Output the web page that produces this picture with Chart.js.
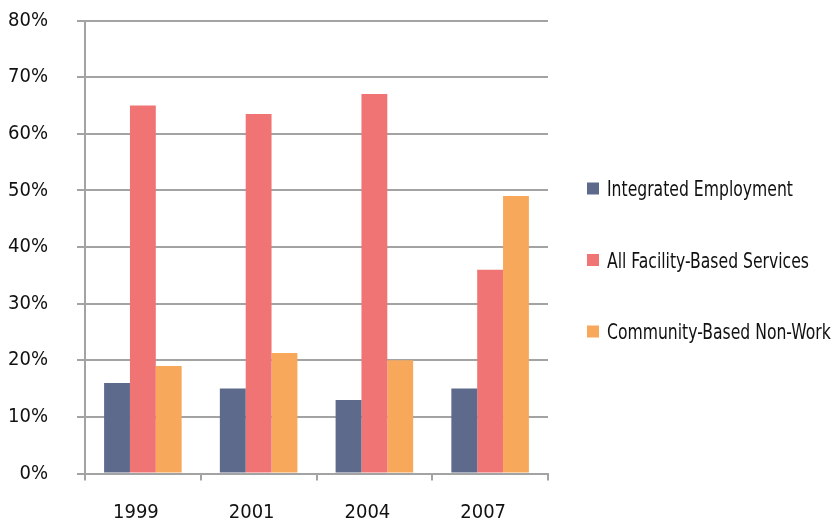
<!DOCTYPE html>
<html>
<head>
<meta charset="utf-8">
<script src="https://cdn.jsdelivr.net/npm/chart.js@4.4.1/dist/chart.umd.min.js"></script>
<style>
    html, body { margin: 0; padding: 0; background: #fff; }
    #wrap { width: 837px; height: 522px; }
</style>
</head>
<body>
<div id="wrap"><canvas id="chart" width="837" height="522"></canvas></div>
<script>
// Chart data
const years = ['1999', '2001', '2004', '2007'];
const integratedEmployment = [16, 15, 13, 15];
const facilityBased = [65, 63.5, 67, 36];
const communityNonWork = [19, 21.3, 20, 49];
const yTicks = [0, 10, 20, 30, 40, 50, 60, 70, 80];

const seriesNames = ['Integrated Employment', 'All Facility-Based Services', 'Community-Based Non-Work'];
const seriesColors = ['#5d6a8c', '#f07474', '#f8a85a'];

const fontFamily = "'DejaVu Sans Condensed', 'Liberation Sans Narrow', 'Liberation Sans', sans-serif";
const axisGray = '#a3a3a3';
const PLOT_TOP = 20.5;

// Legend drawn on the right, spaced out like the original
const sideLegend = {
    id: 'sideLegend',
    afterDraw(chart) {
        const ctx = chart.ctx;
        const area = chart.chartArea;
        const midY = chart.height / 2;
        ctx.save();
        ctx.font = '22px ' + fontFamily;
        ctx.textBaseline = 'middle';
        chart.data.datasets.forEach((ds, i) => {
            const y = midY + (i - 1) * 71.5;
            ctx.fillStyle = ds.backgroundColor;
            ctx.fillRect(area.right + 39, y - 7, 12, 12);
            // squeeze the text a bit, the original uses a condensed face
            ctx.save();
            ctx.translate(area.right + 59, y + 1);
            ctx.scale(0.79, 1);
            ctx.fillStyle = '#111';
            ctx.fillText(ds.label, 0, 0);
            ctx.restore();
        });
        ctx.restore();
    }
};

Chart.defaults.font.family = fontFamily;
Chart.defaults.color = '#111';

new Chart(document.getElementById('chart').getContext('2d'), {
    type: 'bar',
    data: {
        labels: years,
        datasets: [
            { label: seriesNames[0], data: integratedEmployment, backgroundColor: seriesColors[0] },
            { label: seriesNames[1], data: facilityBased, backgroundColor: seriesColors[1] },
            { label: seriesNames[2], data: communityNonWork, backgroundColor: seriesColors[2] }
        ]
    },
    options: {
        responsive: false,
        animation: false,
        devicePixelRatio: 1,
        categoryPercentage: 0.67,
        barPercentage: 1,
        layout: { padding: { top: 0, right: 289, bottom: 0, left: 0 } },
        plugins: {
            legend: { display: false },
            tooltip: { enabled: false }
        },
        scales: {
            x: {
                grid: {
                    offset: true,
                    drawOnChartArea: false,
                    drawTicks: true,
                    tickLength: 7,
                    color: axisGray,
                    lineWidth: 2
                },
                border: { color: axisGray, width: 2 },
                ticks: { font: { size: 20 }, padding: 20, maxRotation: 0, labelOffset: -7 },
                afterFit(scale) { scale.height = 48.5; }
            },
            y: {
                min: 0,
                max: 80,
                afterBuildTicks(scale) {
                    scale.ticks = yTicks.map(v => ({ value: v }));
                },
                grid: {
                    color: axisGray,
                    lineWidth: 2,
                    tickLength: 8
                },
                border: { color: axisGray, width: 2 },
                ticks: {
                    font: { size: 20 },
                    padding: 29,
                    callback: v => v + '%'
                },
                afterFit(scale) {
                    scale.width = 85;
                    scale.paddingTop = PLOT_TOP;
                }
            }
        }
    },
    plugins: [sideLegend]
});
</script>
</body>
</html>
